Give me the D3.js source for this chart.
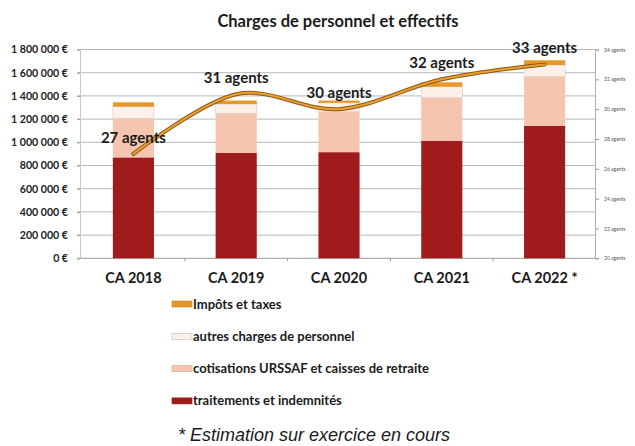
<!DOCTYPE html>
<html>
<head>
<meta charset="utf-8">
<script src="https://cdn.jsdelivr.net/npm/d3@7"></script>
<style>
  body { margin: 0; background: #fff; }
  svg { display: block; }
</style>
</head>
<body>
<div id="chart"></div>
<script>
// data
var categories = ["CA 2018", "CA 2019", "CA 2020", "CA 2021", "CA 2022 *"];
var traitements = [870000, 910000, 915000, 1014000, 1143000];
var cotisations = [337000, 340000, 349000, 371000, 423000];
var autres = [100000, 80000, 76000, 94000, 100000];
var impots = [38000, 30000, 20000, 38000, 41000];
var agents = [27, 31, 30, 32, 33];
var leftTicks = [0, 200000, 400000, 600000, 800000, 1000000, 1200000, 1400000, 1600000, 1800000];
var rightTicks = [20, 22, 24, 26, 28, 30, 32, 34];

var seriesNames = ["traitements et indemnités", "cotisations URSSAF et caisses de retraite", "autres charges de personnel", "Impôts et taxes"];
var seriesColors = ["#a01c1c", "#f6c5b0", "#fdf0e8", "#e5992a"];

var W = 635, H = 446;
var plotLeft = 80, plotRight = 595, plotTop = 49.5, plotBottom = 258.3;

var svg = d3.select("#chart").append("svg")
  .attr("width", W).attr("height", H);

var x = d3.scaleBand().domain(categories).range([82, 596]).paddingInner(0.6).paddingOuter(0.3);
var y = d3.scaleLinear().domain([0, 1800000]).range([plotBottom, plotTop]);
var y2 = d3.scaleLinear().domain([20, 34]).range([plotBottom, plotTop]);

function euro(v) {
  return d3.format(",")(v).replace(/,/g, " ") + " €";
}

// title
svg.append("text")
  .attr("x", 338).attr("y", 27)
  .attr("text-anchor", "middle")
  .style("font-family", "Lato").style("font-weight", "bold").style("font-size", "16.5px")
  .attr("fill", "#1a1a1a")
  .text("Charges de personnel et effectifs");

// gridlines
svg.append("g").selectAll("line").data(leftTicks).join("line")
  .attr("x1", plotLeft - 3).attr("x2", plotRight)
  .attr("y1", function(d){ return y(d); }).attr("y2", function(d){ return y(d); })
  .attr("stroke", function(d){ return d === 0 ? "#9a9a9a" : "#b8b8b8"; })
  .attr("stroke-width", 1);

// left axis
var gl = svg.append("g").attr("transform", "translate(" + plotLeft + ",0)")
  .call(d3.axisLeft(y).tickValues(leftTicks).tickFormat(euro).tickSize(3).tickPadding(9));
gl.select(".domain").attr("stroke", "#c8c8c8");
gl.selectAll(".tick line").attr("stroke", "#9a9a9a");
gl.selectAll("text")
  .style("font-family", "Lato").style("font-weight", "bold").style("font-size", "10.6px")
  .attr("fill", "#222");

// right axis
var gr = svg.append("g").attr("transform", "translate(" + plotRight + ",0)")
  .call(d3.axisRight(y2).tickValues(rightTicks).tickFormat(function(d){ return d + " agents"; }).tickSize(4).tickPadding(5));
gr.select(".domain").attr("stroke", "#b0b0b0");
gr.selectAll(".tick line").attr("stroke", "#9a9a9a");
gr.selectAll("text")
  .style("font-family", "Lato").style("font-size", "5px")
  .attr("fill", "#555");

// bottom axis (labels + small separators)
var gb = svg.append("g").attr("transform", "translate(0," + plotBottom + ")")
  .call(d3.axisBottom(x).tickSize(0).tickPadding(14));
gb.select(".domain").remove();
gb.selectAll("text")
  .style("font-family", "Lato").style("font-weight", "bold").style("font-size", "14.5px")
  .attr("fill", "#1a1a1a");
svg.append("g").selectAll("line").data(categories.slice(1)).join("line")
  .attr("x1", function(d){ return x(d) - x.step() * 0.3; })
  .attr("x2", function(d){ return x(d) - x.step() * 0.3; })
  .attr("y1", plotBottom).attr("y2", plotBottom + 3)
  .attr("stroke", "#9a9a9a");

// stacked bars
var rows = categories.map(function(c, i) {
  return { cat: c, s0: traitements[i], s1: cotisations[i], s2: autres[i], s3: impots[i] };
});
var stack = d3.stack().keys(["s0", "s1", "s2", "s3"])(rows);

svg.append("g").selectAll("g").data(stack).join("g")
  .attr("fill", function(d, i){ return seriesColors[i]; })
  .attr("stroke", function(d, i){ return i === 2 ? "#d9c9c0" : "none"; })
  .attr("stroke-width", 0.6)
  .selectAll("rect").data(function(d){ return d; }).join("rect")
    .attr("x", function(d){ return x(d.data.cat); })
    .attr("width", x.bandwidth())
    .attr("y", function(d){ return y(d[1]); })
    .attr("height", function(d){ return y(d[0]) - y(d[1]); });

// agents line
var line = d3.line()
  .x(function(d, i){ return x(categories[i]) + x.bandwidth() / 2; })
  .y(function(d){ return y2(d); })
  .curve(d3.curveCardinal.tension(0));

svg.append("path").datum(agents)
  .attr("fill", "none").attr("stroke", "#8c5614").attr("stroke-width", 4)
  .attr("stroke-linecap", "round")
  .attr("d", line);
svg.append("path").datum(agents)
  .attr("fill", "none").attr("stroke", "#e9a030").attr("stroke-width", 2)
  .attr("stroke-linecap", "round")
  .attr("d", line);

// agents labels
svg.append("g").selectAll("text").data(agents).join("text")
  .attr("x", function(d, i){ return x(categories[i]) + x.bandwidth() / 2; })
  .attr("y", function(d){ return y2(d) - 11; })
  .attr("text-anchor", "middle")
  .style("font-family", "Lato").style("font-weight", "bold").style("font-size", "15px")
  .attr("fill", "#1a1a1a")
  .text(function(d){ return d + " agents"; });

// legend (top entry = last series)
var legendOrder = [3, 2, 1, 0];
var lg = svg.append("g").selectAll("g").data(legendOrder).join("g")
  .attr("transform", function(d, i){ return "translate(172," + (304 + i * 32.3) + ")"; });
lg.append("rect")
  .attr("x", 0).attr("y", -3).attr("width", 20).attr("height", 6)
  .attr("fill", function(d){ return seriesColors[d]; })
  .attr("stroke", function(d){ return d === 2 ? "#c9b8ae" : d3.color(seriesColors[d]).darker(0.5); })
  .attr("stroke-width", 0.6);
lg.append("text")
  .attr("x", 21).attr("y", 4.5)
  .style("font-family", "Lato").style("font-weight", "bold").style("font-size", "13px")
  .attr("fill", "#1a1a1a")
  .text(function(d){ return seriesNames[d]; });

// footnote
svg.append("text")
  .attr("x", 178).attr("y", 441)
  .style("font-family", "Liberation Sans").style("font-style", "italic").style("font-size", "18px")
  .attr("fill", "#1a1a1a")
  .text("* Estimation sur exercice en cours");
</script>
</body>
</html>
